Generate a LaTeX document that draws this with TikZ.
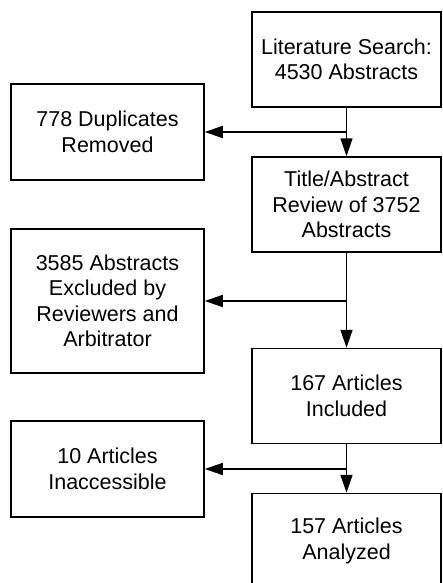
\documentclass[tikz,border=0pt]{standalone}
\usepackage{fontspec}
\setmainfont{Liberation Sans}
\usetikzlibrary{arrows.meta, positioning}

\begin{document}
\begin{tikzpicture}[x=1pt, y=-1pt,
    every node/.style={draw, align=center, font=\fontsize{21.5}{25.5}\selectfont},
    rightbox/.style={minimum width=189pt, minimum height=95pt},
    leftbox/.style={minimum width=193pt, minimum height=96pt},
    line width=1.5pt, >={Triangle[length=18pt, width=12pt]},
  ]
  \useasboundingbox (0,0) rectangle (442,583);
  \node (search) at (346.5,59.5) [rightbox] {Literature Search:\\4530 Abstracts};
  \node (review) at (346.5,204.5) [rightbox] {Title/Abstract\\Review of 3752\\Abstracts};
  \node (incl) at (346.5,396) [rightbox] {167 Articles\\Included};
  \node (anal) at (346.5,541) [rightbox] {157 Articles\\Analyzed};
  \node (dup) at (107.5,132) [leftbox] {778 Duplicates\\Removed};
  \node (excl) at (107.5,301) [leftbox, minimum height=144pt] {3585 Abstracts\\Excluded by\\Reviewers and\\Arbitrator};
  \node (inacc) at (107.5,469) [leftbox] {10 Articles\\Inaccessible};
  \coordinate (j1) at (search.south |- dup.east);
  \coordinate (j2) at (review.south |- excl.east);
  \coordinate (j3) at (incl.south |- inacc.east);
  \draw[->] (search) -- (review);
  \draw[->] (review) -- (incl);
  \draw[->] (incl) -- (anal);
  \draw[->] (j1) -- (dup);
  \draw[->] (j2) -- (excl);
  \draw[->] (j3) -- (inacc);
\end{tikzpicture}
\end{document}
